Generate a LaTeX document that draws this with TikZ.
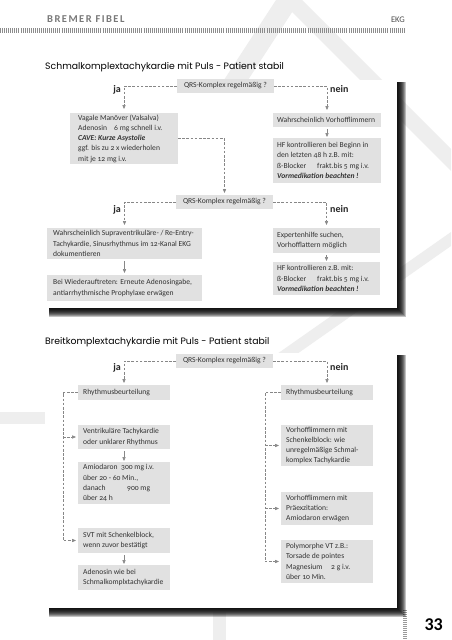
\documentclass[tikz,border=0pt]{standalone}
\usepackage{fontspec}
\setmainfont{Carlito}[Numbers=OldStyle]
\newfontfamily\titlefont{Poppins}
\newfontfamily\headfont{Carlito}[LetterSpace=14]
\newfontfamily\numfont{Carlito}[Numbers=Lining]
\usetikzlibrary{arrows.meta,calc}
\definecolor{boxgray}{RGB}{225,225,225}
\definecolor{txt}{RGB}{50,50,50}
\definecolor{lin}{RGB}{135,135,135}
\definecolor{wm}{RGB}{238,238,238}
\definecolor{headgray}{RGB}{120,120,120}
\tikzset{
  box/.style={fill=boxgray, inner sep=0pt, outer sep=0pt, anchor=north west},
  boxtext/.style={text=txt, font=\fontsize{7.6}{10.3}\selectfont, align=left, inner sep=0pt},
  qbox/.style={fill=boxgray, text=txt, font=\fontsize{7.6}{10.3}\selectfont, inner sep=0pt, outer sep=0pt, anchor=north west, minimum width=97pt, minimum height=14pt},
  dline/.style={draw=lin, line width=0.6pt, dash pattern=on 2.6pt off 1.6pt},
  tip/.style={-{Triangle[length=4pt,width=3.2pt]}},
  sline/.style={draw=lin, line width=0.6pt},
  yn/.style={font=\bfseries\fontsize{10}{11}\selectfont, text=black!85, inner sep=0pt},
  ttl/.style={font=\titlefont\fontsize{9.3}{11}\selectfont, inner sep=0pt, anchor=base west},
  wmband/.style={fill=wm},
}
\newcommand\mybox[7]{%
  \pgfmathsetmacro\bw{#4-#2}%
  \pgfmathsetmacro\bh{#5-#3}%
  \node[box, minimum width=\bw pt, minimum height=\bh pt] (#1) at (#2,#3) {};
  \node[boxtext, anchor=west] (#1t) at ([xshift=#6pt]#1.west) {#7};}
\newcommand\shadowpanel[4]{%
  \foreach \d in {1,...,9}{\fill[black, opacity=0.24] (#1+4,#2+2) rectangle (#3+\d,#4+\d);}%
  \fill[white] (#1,#2) rectangle (#3,#4);}
\begin{document}
\begin{tikzpicture}[x=1pt,y=-1pt]
\useasboundingbox (0,0) rectangle (451,640);
\fill[white] (0,0) rectangle (451,640);
% watermark
\begin{scope}
\clip (0,0) rectangle (451,640);
\fill[wmband] (280,0) -- (302,0) -- (451,149) -- (451,171) -- cycle;
\fill[wmband] (276,0) -- (300,0) -- (248,80) -- (224,80) -- cycle;
\fill[wmband] (200,408) -- (451,232) -- (451,246) -- (200,422) -- cycle;
\fill[wmband] (0,412) rectangle (45,424);
\fill[wmband] (213,612) rectangle (226,640);
\end{scope}
% header
\node[anchor=base west, inner sep=0pt, font=\headfont\bfseries\fontsize{10.5}{11}\selectfont, text=headgray] (hd) at (47,22.7) {BREMER FIBEL};
\node[anchor=base east, inner sep=0pt, font=\fontsize{8.6}{10}\selectfont, text=black!70] (ekg) at (405,22.7) {EKG};
\draw[draw=black!45, line width=5pt, dash pattern=on 0.6pt off 1.45pt] (0,30.5) -- (405,30.5);
% page number
\node[anchor=base east, inner sep=0pt, font=\numfont\bfseries\fontsize{18}{18}\selectfont] (pg) at (443,630) {33};
\draw[draw=black!40, line width=4pt, dash pattern=on 0.6pt off 1.4pt] (405,610) -- (405,640);
% titles
\node[ttl] (t1) at (45,69) {Schmalkomplextachykardie mit Puls - Patient stabil};
\node[ttl] (t2) at (45,344) {Breitkomplextachykardie mit Puls - Patient stabil};
% panels
\shadowpanel{45}{80}{397}{308}
\shadowpanel{45}{353}{397}{608}
% panel 1
\node[qbox] (q1) at (177,79) {QRS-Komplex regelmäßig ?};
\mybox{a1}{70}{113}{178}{164}{8}{Vagale Manöver (Valsalva)\\ \makebox[36pt][l]{Adenosin}6 mg schnell i.v.\\ \textbf{\textit{CAVE: Kurze Asystolie}}\\ ggf. bis zu 2 x wiederholen\\ mit je 12 mg i.v.}
\mybox{b1}{273}{113}{381}{127}{4}{Wahrscheinlich Vorhofflimmern}
\mybox{b2}{273}{138}{381}{183}{4}{HF kontrollieren bei Beginn in\\ den letzten 48 h z.B. mit:\\ \makebox[40pt][l]{ß-Blocker}frakt.bis 5 mg i.v.\\ \textbf{\textit{Vormedikation beachten !}}}
\node[qbox] (q2) at (176,195) {QRS-Komplex regelmäßig ?};
\mybox{c1}{47}{228}{202}{259}{6}{Wahrscheinlich Supraventrikuläre- / Re-Entry-\\ Tachykardie, Sinusrhythmus im 12-Kanal EKG\\ dokumentieren}
\mybox{c2}{47}{275}{202}{301}{6}{Bei Wiederauftreten: Erneute Adenosingabe,\\ antiarrhythmische Prophylaxe erwägen}
\mybox{d1}{273}{228}{380}{253}{4}{Expertenhilfe suchen,\\ Vorhofflattern möglich}
\mybox{d2}{273}{262}{380}{295}{4}{HF kontrollieren z.B. mit:\\ \makebox[40pt][l]{ß-Blocker}frakt.bis 5 mg i.v.\\ \textbf{\textit{Vormedikation beachten !}}}
\draw[dline, tip] (q1.west) -| ([yshift=4pt]a1.north);
\draw[dline, tip] (q1.east) -| ([yshift=3pt]b1.north);
\draw[sline, tip] ([yshift=-2pt]b1.south) -- ([yshift=1pt]b2.north);
\draw[dline, tip] (a1.east) -| ([yshift=2pt]q2.north);
\draw[dline, tip] (q2.west) -| ([yshift=3pt]c1.north);
\draw[dline, tip] (q2.east) -| ([yshift=3pt]d1.north);
\draw[sline, tip] ([yshift=-2pt]c1.south) -- ([yshift=2pt]c2.north);
\draw[sline, tip] ([yshift=-2pt]d1.south) -- ([yshift=1pt]d2.north);
\node[yn, anchor=base east] (ja1) at (121,92) {ja};
\node[yn, anchor=base west] (nein1) at (330,92) {nein};
\node[yn, anchor=base east] (ja2) at (121,212) {ja};
\node[yn, anchor=base west] (nein2) at (330,212) {nein};
% panel 2
\node[qbox] (q3) at (176,354) {QRS-Komplex regelmäßig ?};
\mybox{e0}{78}{385}{170}{400}{5}{Rhythmusbeurteilung}
\mybox{f0}{281}{385}{373}{400}{5}{Rhythmusbeurteilung}
\mybox{e1}{78}{425}{170}{449}{5}{Ventrikuläre Tachykardie\\ oder unklarer Rhythmus}
\mybox{e2}{78}{462}{170}{504}{5}{\makebox[38pt][l]{Amiodaron}300 mg i.v.\\ über 20 - 60 Min.,\\ \makebox[44pt][l]{danach}900 mg\\ über 24 h}
\mybox{e3}{78}{528}{170}{553}{5}{SVT mit Schenkelblock,\\ wenn zuvor bestätigt}
\mybox{e4}{78}{565}{170}{590}{5}{Adenosin wie bei\\ Schmalkomplxtachykardie}
\mybox{f1}{281}{425}{373}{466}{5}{Vorhofflimmern mit\\ Schenkelblock: wie\\ unregelmäßige Schmal-\\ komplex Tachykardie}
\mybox{f2}{281}{492}{373}{525}{5}{Vorhofflimmern mit\\ Präexzitation:\\ Amiodaron erwägen}
\mybox{f3}{281}{540}{373}{583}{5}{Polymorphe VT z.B.:\\ Torsade de pointes\\ \makebox[45pt][l]{Magnesium}2 g i.v.\\ über 10 Min.}
\draw[dline, tip] (q3.west) -| ([yshift=2pt]e0.north);
\draw[dline, tip] (q3.east) -| ([yshift=2pt]f0.north);
\coordinate (lx) at ([xshift=-15pt]e0.west);
\draw[dline, tip, shorten >=2pt] (e0.west) -- (lx) |- (e3.west);
\draw[dline, tip, shorten >=2pt] (lx |- e1.west) -- (e1.west);
\coordinate (rx) at ([xshift=-16pt]f0.west);
\draw[dline, tip, shorten >=2pt] (f0.west) -- (rx) |- (f3.west);
\draw[dline, tip, shorten >=2pt] (rx |- f1.west) -- (f1.west);
\draw[dline, tip, shorten >=2pt] (rx |- f2.west) -- (f2.west);
\draw[sline, tip] ([yshift=-2pt]e1.south) -- ([yshift=1pt]e2.north);
\draw[sline, tip] ([yshift=-2pt]e3.south) -- ([yshift=1pt]e4.north);
\node[yn, anchor=base east] (ja3) at (121,370) {ja};
\node[yn, anchor=base west] (nein3) at (330,370) {nein};
\end{tikzpicture}
\end{document}
